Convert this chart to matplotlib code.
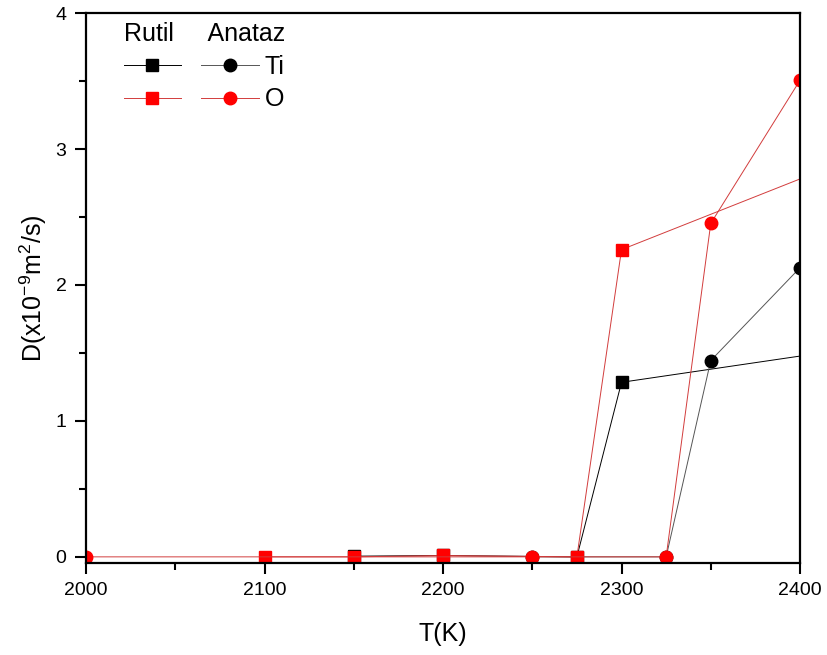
import numpy as np
import matplotlib.pyplot as plt
from matplotlib.ticker import MultipleLocator

plt.rcParams['font.family'] = ['Liberation Sans', 'DejaVu Sans']
plt.rcParams['mathtext.fontset'] = 'custom'
plt.rcParams['mathtext.rm'] = 'Liberation Sans'

# Rutil phase
T_rutil = [2150, 2200, 2275, 2300, 2500]
D_rutil_ti = [0.005, 0.01, 0.0, 1.284, 1.67]
T_rutil_o = [2100, 2150, 2200, 2275, 2300, 2500]
D_rutil_o = [0.0, 0.0, 0.01, 0.0, 2.26, 3.30]

# Anataz phase
T_anataz_ti = [2250, 2325, 2350, 2400]
D_anataz_ti = [0.0, 0.0, 1.444, 2.127]
T_anataz_o = [2000, 2250, 2325, 2350, 2400]
D_anataz_o = [0.0, 0.0, 0.0, 2.453, 3.506]

fig = plt.figure(figsize=(8.28, 6.55), dpi=100)
ax = fig.add_axes([0.1039, 0.1405, 0.8623, 0.8395])

l1, = ax.plot(T_rutil, D_rutil_ti, color='black', lw=0.7, marker='s', ms=8, mec='black', mfc='black')
l3, = ax.plot(T_anataz_ti, D_anataz_ti, color='#555555', lw=0.7, marker='o', ms=9, mec='black', mfc='black')
l2, = ax.plot(T_rutil_o, D_rutil_o, color='#d23c3c', lw=0.7, marker='s', ms=8, mec='red', mfc='red')
l4, = ax.plot(T_anataz_o, D_anataz_o, color='#d23c3c', lw=0.7, marker='o', ms=9, mec='red', mfc='red')

ax.set_xlim(2000, 2400)
ax.set_ylim(-0.045, 4)
ax.xaxis.set_major_locator(MultipleLocator(100))
ax.xaxis.set_minor_locator(MultipleLocator(50))
ax.yaxis.set_major_locator(MultipleLocator(1))
ax.yaxis.set_minor_locator(MultipleLocator(0.5))
ax.tick_params(which='both', direction='out', width=1.5, labelsize=14, colors='black')
ax.tick_params(which='major', length=8, pad=6)
ax.tick_params(which='minor', length=5)
for s in ax.spines.values():
    s.set_linewidth(1.6)

ax.set_xlabel('T(K)', fontsize=18, labelpad=16)
ax.set_ylabel('D(x10$\\mathregular{^{-9}}$m$\\mathregular{^{2}}$/s)', fontsize=18, labelpad=5)

leg = ax.legend([l1, l2, l3, l4], ['', '', 'Ti', 'O'], ncol=2, frameon=False,
                title='Rutil     Anataz', title_fontsize=18, fontsize=18,
                loc='upper left', bbox_to_anchor=(0.021, 1.025), alignment='left',
                handlelength=2.3, handletextpad=0.25, columnspacing=0.55, labelspacing=0.35)

fig.savefig('out.png', dpi=100)
